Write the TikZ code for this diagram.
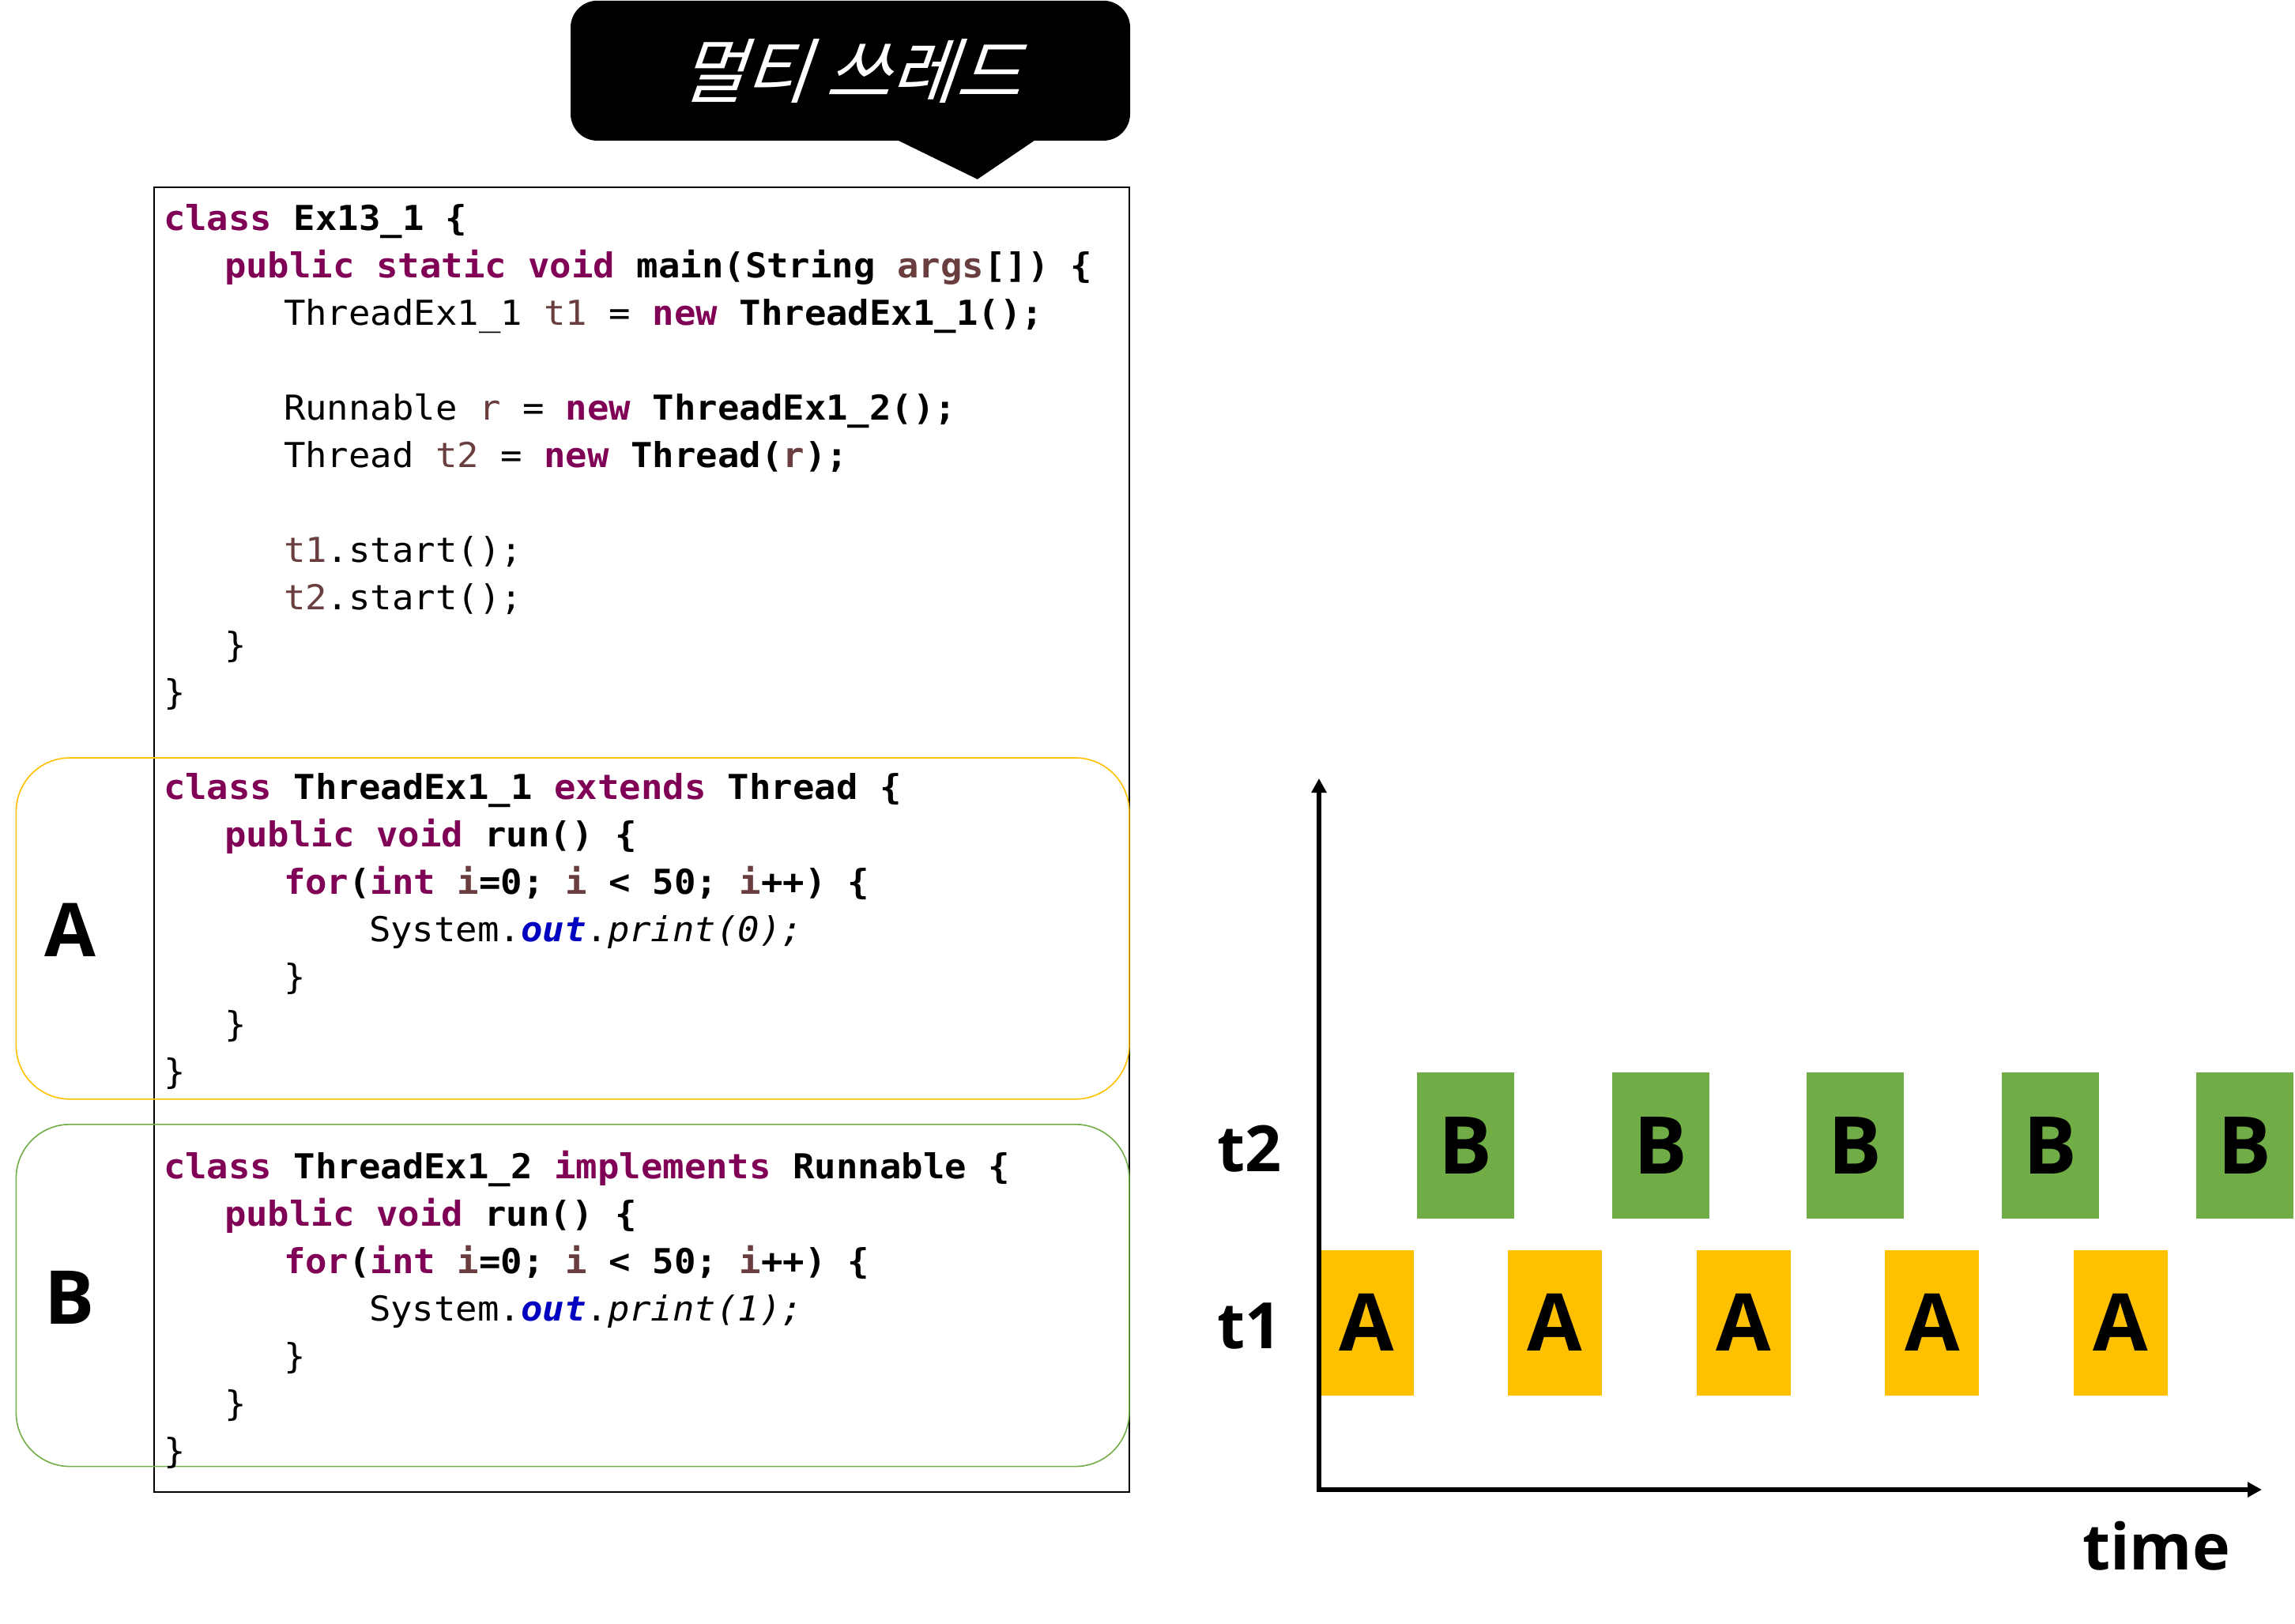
\documentclass[tikz,border=0pt]{standalone}
\usepackage{fontspec}
\usetikzlibrary{arrows.meta}
\newfontfamily\codefont[FakeStretch=1.05,BoldFont={DejaVu Sans Mono Bold},ItalicFont={DejaVu Sans Mono Oblique},BoldItalicFont={DejaVu Sans Mono Bold Oblique}]{DejaVu Sans Mono}
\newfontfamily\lblfont{Open Sans}
\newfontfamily\krfont[FakeSlant=0.35]{Noto Sans CJK KR}
\definecolor{kwc}{HTML}{7F0055}
\definecolor{varc}{HTML}{6A3E3E}
\definecolor{outc}{HTML}{0000C0}
\definecolor{grn}{HTML}{70AD47}
\definecolor{ylw}{HTML}{FFC000}
\newcommand\kw[1]{\textcolor{kwc}{\textbf{#1}}}
\newcommand\jvar[1]{\textcolor{varc}{\textbf{#1}}}
\newcommand\jvarr[1]{\textcolor{varc}{#1}}
\newcommand\jout[1]{\textcolor{outc}{\textbf{\textit{#1}}}}
\begin{document}
\begin{tikzpicture}[x=1pt,y=-1pt,
  code/.style={anchor=base west,inner sep=0pt,outer sep=0pt,font=\codefont\fontsize{10.86}{13}\selectfont},
  biglbl/.style={anchor=base,inner sep=0pt,font=\lblfont\bfseries\fontsize{23.5}{24}\selectfont},
  axlbl/.style={anchor=base west,inner sep=0pt,font=\lblfont\bfseries\fontsize{20.2}{21}\selectfont},
  bbox/.style={fill=grn,minimum width=30.75pt,minimum height=46.2pt,inner sep=0pt,text height=18pt,text depth=0pt,font=\lblfont\bfseries\fontsize{25.2}{26}\selectfont},
  abox/.style={fill=ylw,minimum width=29.75pt,minimum height=45.9pt,inner sep=0pt,text height=18pt,text depth=0pt,font=\lblfont\bfseries\fontsize{25.2}{26}\selectfont},
  axis/.style={line width=1.375pt,line join=miter,{Triangle[width=4.6pt,length=4.5pt]}-{Triangle[width=4.6pt,length=4.5pt]}}
]
\useasboundingbox (0,0) rectangle (726,513.75);
% speech bubble
\fill[black,rounded corners=8.5pt] (180.5,0.2) rectangle (357.5,44.5);
\fill[black] (283.25,44) -- (309.2,56.7) -- (327.9,44) -- cycle;
\node[text=white,anchor=base,inner sep=0pt,font=\krfont\fontsize{22.4}{23}\selectfont] (title) at (268.6,30.8) {멀티 쓰레드};
% code box
\draw[line width=0.45pt] (48.75,59.2) rectangle (357.25,471.9);
% highlight frames
\draw[ylw,line width=0.4pt,rounded corners=17pt] (5.1,239.75) rectangle (357.2,347.7);
\draw[grn,line width=0.4pt,rounded corners=17pt] (5.1,355.7) rectangle (357.2,463.9);
% code lines
\node[code] (c0) at (51.75,72.875) {\kw{class} \textbf{Ex13\_1 \{}};
\node[code] (c1) at (71,87.875) {\kw{public static void} \textbf{main(String \jvar{args}[]) \{}};
\node[code] (c2) at (89.75,102.875) {ThreadEx1\_1 \jvarr{t1} = \kw{new} \textbf{ThreadEx1\_1();}};
\node[code] (c4) at (89.75,132.875) {Runnable \jvarr{r} = \kw{new} \textbf{ThreadEx1\_2();}};
\node[code] (c5) at (89.75,147.875) {Thread \jvarr{t2} = \kw{new} \textbf{Thread(\jvar{r});}};
\node[code] (c7) at (89.75,177.875) {\jvarr{t1}.start();};
\node[code] (c8) at (89.75,192.875) {\jvarr{t2}.start();};
\node[code] (c9) at (71,207.875) {\}};
\node[code] (c10) at (51.75,222.875) {\}};
\node[code] (c12) at (51.75,252.875) {\kw{class} \textbf{ThreadEx1\_1} \kw{extends} \textbf{Thread \{}};
\node[code] (c13) at (71,267.875) {\kw{public void} \textbf{run() \{}};
\node[code] (c14) at (89.75,282.875) {\kw{for}\textbf{(}\kw{int} \jvar{i}\textbf{=0;} \jvar{i} \textbf{< 50;} \jvar{i}\textbf{++) \{}};
\node[code] (c15) at (116.75,297.875) {System.\jout{out}.\textit{print(0);}};
\node[code] (c16) at (89.75,312.875) {\}};
\node[code] (c17) at (71,327.875) {\}};
\node[code] (c18) at (51.75,342.875) {\}};
\node[code] (c20) at (51.75,372.875) {\kw{class} \textbf{ThreadEx1\_2} \kw{implements} \textbf{Runnable \{}};
\node[code] (c21) at (71,387.875) {\kw{public void} \textbf{run() \{}};
\node[code] (c22) at (89.75,402.875) {\kw{for}\textbf{(}\kw{int} \jvar{i}\textbf{=0;} \jvar{i} \textbf{< 50;} \jvar{i}\textbf{++) \{}};
\node[code] (c23) at (116.75,417.875) {System.\jout{out}.\textit{print(1);}};
\node[code] (c24) at (89.75,432.875) {\}};
\node[code] (c25) at (71,447.875) {\}};
\node[code] (c26) at (51.75,462.875) {\}};
% section labels
\node[biglbl] (la) at (22.2,302.5) {A};
\node[biglbl] (lb) at (22.0,418.75) {B};
% timeline boxes
\foreach \k in {0,...,4}{
  \node[bbox] (b\k) at ({463.625+61.625*\k},362.3) {B};
  \node[abox] (a\k) at ({432.275+59.65*\k},418.45) {A};
}
% axes
\coordinate (ytop) at (417.25,246.25);
\coordinate (orig) at (417.25,471.25);
\coordinate (xend) at (715.5,471.25);
\draw[axis] (ytop) -- (orig) -- (xend);
% axis labels
\node[axlbl] (t2) at (384.8,370.5) {t2};
\node[axlbl] (t1) at (384.8,426.5) {t1};
\node[axlbl] (time) at (658.6,496.6) {time};
\end{tikzpicture}
\end{document}
